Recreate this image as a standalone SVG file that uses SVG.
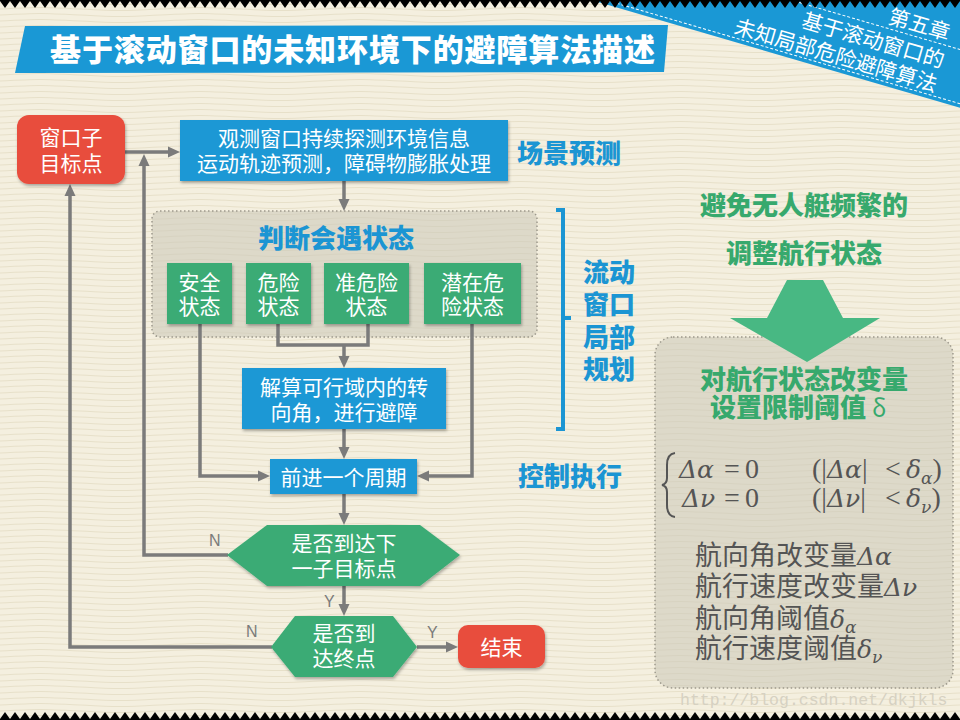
<svg xmlns="http://www.w3.org/2000/svg" width="960" height="720" viewBox="0 0 960 720">
<defs>
<style>
.cjk{font-family:'Noto Sans CJK SC','Noto Sans',sans-serif}
.t{font-family:'Noto Sans CJK SC','Noto Sans',sans-serif;font-size:21px;fill:#fff;text-anchor:middle}
.hb{font-family:'Noto Sans CJK SC','Noto Sans',sans-serif;font-size:26px;font-weight:900;fill:#1b95d3}
.hg{font-family:'Noto Sans CJK SC','Noto Sans',sans-serif;font-size:26px;font-weight:900;fill:#37a96d;text-anchor:middle}
.blue{fill:#1a98d5}
.green{fill:#3aab74}
.red{fill:#e84d3d}
.conn{stroke:#7b7b7b;stroke-width:3.5;fill:none}
.yn{font-family:'Liberation Sans',Arial,sans-serif;font-size:16px;fill:#7b7b7b}
.m{font-family:'Liberation Serif','Times New Roman',serif;font-size:28px;fill:#555}
.mi{font-family:'DejaVu Serif','Liberation Serif',serif;font-style:italic;font-size:25px}
.sub{font-family:'DejaVu Serif','Liberation Serif',serif;font-style:italic;font-size:17px}
.list{font-family:'Noto Sans CJK SC','Noto Sans',sans-serif;font-size:27px;fill:#545454}
.panel{fill:#cdc9ba;fill-opacity:0.6;stroke:#9d998c;stroke-width:1.5;stroke-dasharray:1.5 2.5}
.rib{font-family:'Noto Sans CJK SC','Noto Sans',sans-serif;font-size:21px;fill:#fff;text-anchor:end}
</style>
<pattern id="wave" width="160" height="6" patternUnits="userSpaceOnUse">
<path d="M0,3 C40,1 40,1 80,3 S120,5 160,3" stroke="#e7e0c9" stroke-width="1.2" fill="none"/>
</pattern>
<pattern id="zzTop" width="10" height="9" patternUnits="userSpaceOnUse">
<path d="M0,0 H10 V1 L5,8 L0,1 Z" fill="#000"/>
</pattern>
<pattern id="zzBot" x="0" y="711" width="10" height="9" patternUnits="userSpaceOnUse">
<path d="M0,9 H10 V8 L5,1 L0,8 Z" fill="#000"/>
</pattern>
<marker id="arr" markerUnits="userSpaceOnUse" markerWidth="13" markerHeight="12" viewBox="0 0 13 12" refX="7" refY="6" orient="auto">
<path d="M0,0.5 L12,6 L0,11.5 Z" fill="#7b7b7b"/>
</marker>
<filter id="sh" x="-10%" y="-15%" width="130%" height="150%">
<feDropShadow dx="1" dy="2" stdDeviation="1.5" flood-color="#000" flood-opacity="0.3"/>
</filter>
</defs>

<rect width="960" height="720" fill="#f4efdf"/>
<rect width="960" height="720" fill="url(#wave)"/>

<!-- title banner -->
<g id="title">
<polygon points="25,26 668,25 664,72 15,73" class="blue"/>
<text x="50" y="61" class="cjk" font-size="31" font-weight="900" fill="#fff" textLength="605" lengthAdjust="spacing">基于滚动窗口的未知环境下的避障算法描述</text>
</g>

<!-- corner ribbon -->
<g id="ribbon" transform="translate(941,70) rotate(16.3)">
<rect x="-360" y="-140" width="500" height="171" class="blue"/>
<line x1="-360" y1="-25" x2="140" y2="-25" stroke="#fff" stroke-width="1" stroke-dasharray="3 2"/>
<line x1="-360" y1="27" x2="140" y2="27" stroke="#fff" stroke-width="1" stroke-dasharray="3 2"/>
<text class="rib" x="-2" y="-30">第五章</text>
<text class="rib" x="0" y="-2">基于滚动窗口的</text>
<text class="rib" x="0" y="23">未知局部危险避障算法</text>
</g>

<!-- panels -->
<g id="judge-group">
<rect x="152" y="211" width="385" height="126" rx="8" class="panel"/>
<text class="hb" x="336" y="248" text-anchor="middle">判断会遇状态</text>
</g>

<g id="right-panel">
<rect x="655" y="337" width="298" height="351" rx="18" class="panel"/>
</g>

<!-- connectors -->
<g id="connectors">
<path class="conn" d="M125,152 H175" marker-end="url(#arr)"/>
<path class="conn" d="M228,555 H144 V159" marker-end="url(#arr)"/>
<path class="conn" d="M272,647 H70 V189" marker-end="url(#arr)"/>
<path class="conn" d="M344,181 V206" marker-end="url(#arr)"/>
<path class="conn" d="M200,324 V476 H265" marker-end="url(#arr)"/>
<path class="conn" d="M278,324 V345 H368 V324"/>
<path class="conn" d="M344,345 V363" marker-end="url(#arr)"/>
<path class="conn" d="M472,324 V476 H422" marker-end="url(#arr)"/>
<path class="conn" d="M344,429 V454" marker-end="url(#arr)"/>
<path class="conn" d="M344,494 V520" marker-end="url(#arr)"/>
<path class="conn" d="M344,586 V611" marker-end="url(#arr)"/>
<path class="conn" d="M417,647 H453" marker-end="url(#arr)"/>
<text class="yn" x="209" y="546">N</text>
<text class="yn" x="324" y="607">Y</text>
<text class="yn" x="246" y="637">N</text>
<text class="yn" x="427" y="638">Y</text>
</g>

<!-- nodes -->
<g id="window-goal">
<rect x="17" y="115" width="108" height="69" rx="12" class="red" filter="url(#sh)"/>
<text class="t" x="71" y="145">窗口子</text>
<text class="t" x="71" y="171">目标点</text>
</g>

<g id="observe">
<rect x="180" y="120" width="328" height="61" class="blue" filter="url(#sh)"/>
<text class="t" x="344" y="146">观测窗口持续探测环境信息</text>
<text class="t" x="344" y="171">运动轨迹预测，障碍物膨胀处理</text>
</g>

<g id="safe">
<rect x="167" y="263" width="65" height="61" class="green" filter="url(#sh)"/>
<text class="t" x="199.5" y="290">安全</text>
<text class="t" x="199.5" y="314">状态</text>
</g>
<g id="danger">
<rect x="246" y="263" width="65" height="61" class="green" filter="url(#sh)"/>
<text class="t" x="278.5" y="290">危险</text>
<text class="t" x="278.5" y="314">状态</text>
</g>
<g id="quasi-danger">
<rect x="324" y="263" width="85" height="61" class="green" filter="url(#sh)"/>
<text class="t" x="366.5" y="290">准危险</text>
<text class="t" x="366.5" y="314">状态</text>
</g>
<g id="potential-danger">
<rect x="424" y="263" width="97" height="61" class="green" filter="url(#sh)"/>
<text class="t" x="472.5" y="290">潜在危</text>
<text class="t" x="472.5" y="314">险状态</text>
</g>

<g id="solve">
<rect x="242" y="368" width="204" height="61" class="blue" filter="url(#sh)"/>
<text class="t" x="344" y="395">解算可行域内的转</text>
<text class="t" x="344" y="420">向角，进行避障</text>
</g>

<g id="advance">
<rect x="270" y="459" width="147" height="35" class="blue" filter="url(#sh)"/>
<text class="t" x="343.5" y="485">前进一个周期</text>
</g>

<g id="decision-subgoal">
<polygon points="227,555 267,525 420,525 460,555 420,586 267,586" class="green" filter="url(#sh)"/>
<text class="t" x="344" y="551">是否到达下</text>
<text class="t" x="344" y="576">一子目标点</text>
</g>

<g id="decision-end">
<polygon points="271,647 295,616 393,616 417,647 393,677 295,677" class="green" filter="url(#sh)"/>
<text class="t" x="344" y="641">是否到</text>
<text class="t" x="344" y="666">达终点</text>
</g>

<g id="end">
<rect x="458" y="625" width="87" height="43" rx="10" class="red" filter="url(#sh)"/>
<text class="t" x="501.5" y="655">结束</text>
</g>

<!-- side labels -->
<g id="label-scene">
<text class="hb" x="517" y="163">场景预测</text>
</g>
<g id="label-local">
<path d="M556,210 H563 V429 H556 M563,318 H571" stroke="#1b95d3" stroke-width="4" fill="none"/>
<text class="hb" x="583" y="282">流动</text>
<text class="hb" x="583" y="314">窗口</text>
<text class="hb" x="583" y="347">局部</text>
<text class="hb" x="583" y="379">规划</text>
</g>
<g id="label-control">
<text class="hb" x="518" y="486">控制执行</text>
</g>

<!-- right side -->
<g id="avoid-text">
<text class="hg" x="804" y="215">避免无人艇频繁的</text>
<text class="hg" x="804" y="263">调整航行状态</text>
</g>
<g id="down-arrow">
<polygon points="787,280 823,280 843,318 880,318 807,362 730,318 767,318" fill="#48b883"/>
</g>
<g id="limit-text">
<text class="hg" x="804" y="389">对航行状态改变量</text>
<text class="hg" x="788" y="417">设置限制阈值</text>
<text class="cjk" x="872" y="417" font-size="24" fill="#37a96d">δ</text>
</g>

<g id="formula">
<path d="M675,453 Q667,454 667,465 L667,478 Q667,484 662,485 Q667,486 667,492 L667,505 Q667,516 675,517" stroke="#555" stroke-width="2" fill="none"/>
<text class="m" y="478"><tspan x="679" class="mi">Δα</tspan><tspan x="724">=</tspan><tspan x="745">0</tspan><tspan x="812">(|</tspan><tspan class="mi">Δα</tspan><tspan>|</tspan><tspan x="885">&lt;</tspan><tspan x="906" class="mi">δ</tspan><tspan class="sub" dy="6">α</tspan><tspan dy="-6">)</tspan></text>
<text class="m" y="507"><tspan x="682" class="mi">Δν</tspan><tspan x="724">=</tspan><tspan x="745">0</tspan><tspan x="812">(|</tspan><tspan class="mi">Δν</tspan><tspan>|</tspan><tspan x="885">&lt;</tspan><tspan x="906" class="mi">δ</tspan><tspan class="sub" dy="6">ν</tspan><tspan dy="-6">)</tspan></text>
</g>

<g id="legend">
<text class="list" x="695" y="565">航向角改变量<tspan class="mi">Δα</tspan></text>
<text class="list" x="695" y="596">航行速度改变量<tspan class="mi">Δν</tspan></text>
<text class="list" x="695" y="628">航向角阈值<tspan class="mi">δ</tspan><tspan class="sub" dy="5">α</tspan></text>
<text class="list" x="695" y="658">航行速度阈值<tspan class="mi">δ</tspan><tspan class="sub" dy="5">ν</tspan></text>
</g>

<text x="680" y="705" font-family="'Liberation Mono','Courier New',monospace" font-size="16.5" fill="#d6d1c2">http://blog.csdn.net/dkjkls</text>

<!-- zigzag edges -->
<rect x="0" y="0" width="960" height="9" fill="url(#zzTop)"/>
<rect x="0" y="711" width="960" height="9" fill="url(#zzBot)"/>
</svg>
